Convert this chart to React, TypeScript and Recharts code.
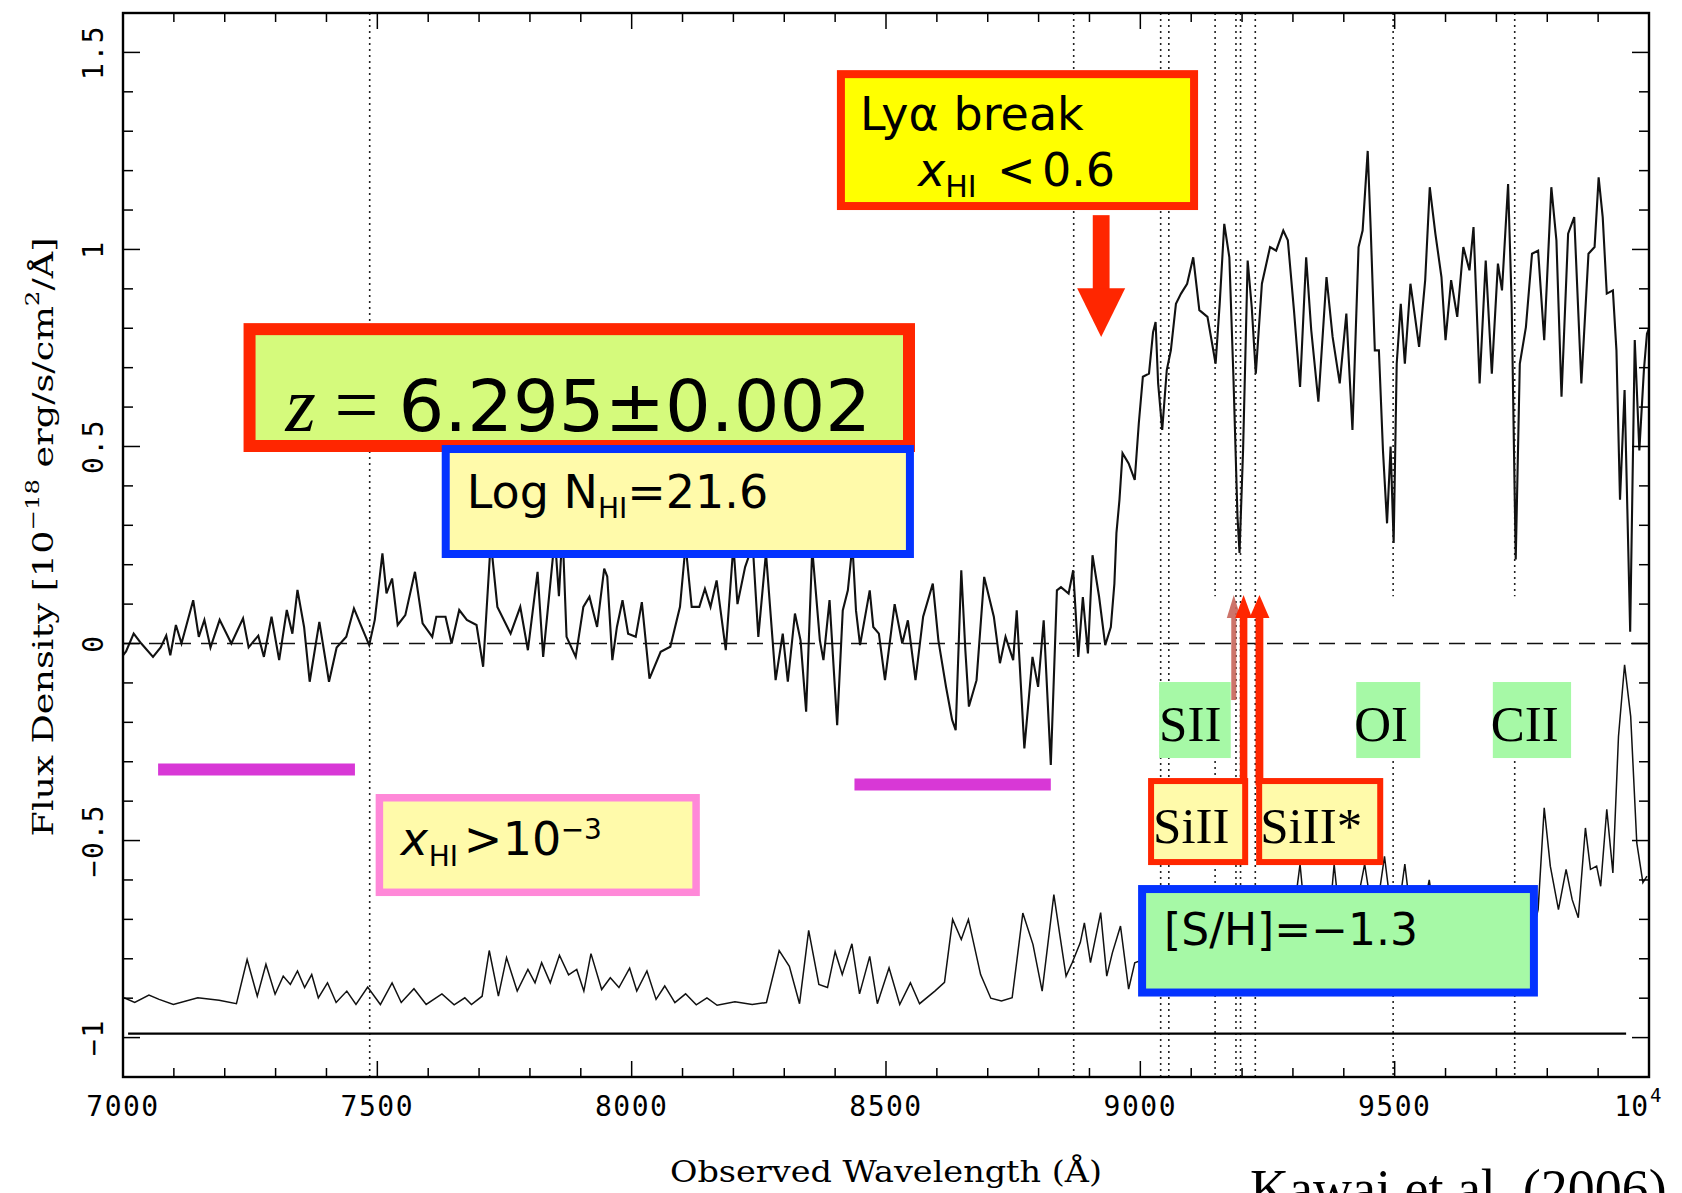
import React from "react";
import { LineChart, Line, XAxis, YAxis, ReferenceLine, ReferenceArea } from "recharts";

type Pt = [number, number];

// Object spectrum (wavelength in Å, flux density in 1e-18 erg/s/cm2/Å)
const OBJECT_BLUE: Pt[] = [
  [7000, -0.03], [7006, -0.02], [7021, 0.025], [7036, 0.0], [7059, -0.034], [7074, -0.01], [7085, 0.02],
  [7093, -0.03], [7104, 0.047], [7115, 0.0], [7138, 0.11], [7149, 0.017], [7160, 0.06], [7172, -0.01],
  [7190, 0.06], [7213, 0.0], [7236, 0.064], [7247, -0.01], [7266, 0.02], [7277, -0.034], [7292, 0.068],
  [7307, -0.042], [7322, 0.085], [7333, 0.025], [7343, 0.136], [7356, 0.042], [7367, -0.097], [7386, 0.055],
  [7405, -0.097], [7420, -0.01], [7439, 0.017], [7454, 0.089], [7469, 0.042], [7484, -0.004], [7495, 0.06],
  [7510, 0.229], [7518, 0.127], [7529, 0.165], [7540, 0.047], [7555, 0.072], [7574, 0.182], [7589, 0.051],
  [7608, 0.017], [7616, 0.068], [7634, 0.068], [7646, 0.0], [7661, 0.085], [7676, 0.06], [7695, 0.047],
  [7708, -0.059], [7723, 0.26], [7736, 0.093], [7762, 0.025], [7781, 0.093], [7796, -0.017], [7815, 0.182],
  [7826, -0.034], [7849, 0.27], [7857, 0.12], [7864, 0.29], [7872, 0.017], [7890, -0.034], [7905, 0.093],
  [7917, 0.119], [7932, 0.042], [7946, 0.19], [7952, 0.17], [7962, -0.042], [7971, 0.042], [7982, 0.11],
  [7993, 0.025],
];
const OBJECT_MID: Pt[] = [
  [8008, 0.017], [8020, 0.105], [8035, -0.089], [8057, -0.021], [8076, -0.008], [8095, 0.093], [8106, 0.25],
  [8118, 0.093], [8133, 0.093], [8144, 0.139], [8155, 0.093], [8167, 0.16], [8185, -0.017], [8200, 0.25],
  [8208, 0.1], [8223, 0.194], [8238, 0.25], [8249, 0.017], [8264, 0.23], [8283, -0.093], [8297, 0.025],
  [8307, -0.097], [8321, 0.076], [8332, 0.008], [8343, -0.173], [8355, 0.24], [8370, 0.008], [8377, -0.042],
  [8389, 0.11], [8404, -0.207], [8415, 0.084], [8425, 0.135], [8434, 0.25], [8441, 0.084], [8449, -0.004],
  [8468, 0.135], [8475, 0.042], [8486, 0.025], [8498, -0.093], [8517, 0.1], [8532, 0.0], [8543, 0.059],
  [8558, -0.093], [8573, 0.068], [8592, 0.152], [8603, 0.008], [8618, -0.11], [8630, -0.194], [8637, -0.22],
  [8648, 0.186], [8656, -0.017], [8663, -0.16], [8678, -0.093], [8693, 0.169], [8712, 0.068], [8724, -0.05],
  [8735, 0.017], [8750, -0.042], [8757, 0.084], [8772, -0.266], [8788, -0.034], [8799, -0.11], [8810, 0.059],
  [8824, -0.308], [8836, 0.135], [8844, 0.143], [8859, 0.127], [8868, 0.186], [8878, -0.034], [8887, 0.118],
  [8897, -0.025], [8906, 0.224], [8919, 0.118], [8931, -0.004], [8942, 0.042], [8949, 0.152], [8953, 0.28],
  [8959, 0.365], [8965, 0.483], [8977, 0.457], [8989, 0.415], [8997, 0.559],
];
const OBJECT_RED: Pt[] = [
  [9005, 0.677], [9017, 0.685], [9025, 0.79], [9030, 0.816], [9035, 0.66], [9043, 0.542], [9052, 0.694],
  [9060, 0.744], [9070, 0.862], [9080, 0.888], [9092, 0.913], [9104, 0.98], [9116, 0.846], [9132, 0.829],
  [9148, 0.71], [9156, 0.862], [9165, 1.065], [9175, 0.98], [9183, 0.677], [9191, 0.322], [9195, 0.23],
  [9202, 0.491], [9211, 0.972], [9219, 0.854], [9227, 0.685], [9239, 0.913], [9255, 1.006], [9267, 0.997],
  [9281, 1.048], [9290, 1.023], [9302, 0.846], [9314, 0.651], [9326, 0.98], [9336, 0.795], [9350, 0.614],
  [9366, 0.93], [9378, 0.778], [9392, 0.66], [9405, 0.837], [9417, 0.542], [9429, 1.006], [9437, 1.048],
  [9447, 1.25], [9453, 1.048], [9461, 0.744], [9469, 0.744], [9477, 0.49], [9485, 0.305], [9492, 0.5],
  [9498, 0.255], [9504, 0.71], [9512, 0.862], [9520, 0.71], [9531, 0.913], [9540, 0.829], [9548, 0.753],
  [9560, 0.922], [9569, 1.158], [9580, 1.04], [9592, 0.93], [9600, 0.77], [9611, 0.922], [9623, 0.829],
  [9635, 1.006], [9647, 0.947], [9655, 1.057], [9667, 0.66], [9679, 0.972], [9691, 0.685], [9703, 0.964],
  [9711, 0.896], [9723, 1.166], [9730, 0.862], [9738, 0.213], [9746, 0.71], [9758, 0.803], [9770, 0.989],
  [9782, 0.997], [9794, 0.77], [9808, 1.158], [9818, 1.023], [9828, 0.626], [9841, 1.04], [9853, 1.082],
  [9867, 0.66], [9881, 0.989], [9893, 1.006], [9901, 1.183], [9909, 1.082], [9917, 0.888], [9929, 0.896],
  [9936, 0.744], [9943, 0.365], [9952, 0.643], [9963, 0.03], [9972, 0.77], [9981, 0.49], [9990, 0.694],
  [9996, 0.786], [10000, 0.8],
];

// Lower (noise / sky) spectrum, offset below zero
const NOISE_BLUE: Pt[] = [
  [7002, -0.899], [7023, -0.911], [7051, -0.892], [7071, -0.903], [7099, -0.916], [7147, -0.899], [7189, -0.905],
  [7223, -0.914], [7244, -0.802], [7264, -0.895], [7281, -0.814], [7299, -0.89], [7315, -0.844], [7329, -0.865],
  [7343, -0.831], [7357, -0.873], [7371, -0.84], [7384, -0.899], [7402, -0.861], [7419, -0.911], [7440, -0.882],
  [7458, -0.916], [7481, -0.872], [7506, -0.916], [7529, -0.861], [7547, -0.911], [7572, -0.876], [7596, -0.916],
  [7627, -0.889], [7651, -0.917], [7672, -0.899], [7685, -0.916], [7706, -0.895], [7720, -0.779], [7738, -0.895],
  [7754, -0.797], [7775, -0.882], [7796, -0.827], [7810, -0.861], [7823, -0.81], [7840, -0.861], [7858, -0.791],
  [7876, -0.841], [7892, -0.827], [7906, -0.882], [7920, -0.787], [7941, -0.878], [7958, -0.848], [7975, -0.873],
  [7996, -0.824], [8010, -0.882], [8030, -0.831], [8048, -0.903], [8065, -0.869], [8085, -0.911], [8106, -0.889],
  [8127, -0.917], [8148, -0.899], [8168, -0.918], [8203, -0.909], [8237, -0.916], [8265, -0.911], [8290, -0.779],
  [8310, -0.819], [8330, -0.914], [8348, -0.728], [8368, -0.865], [8385, -0.873], [8400, -0.782], [8414, -0.84],
  [8433, -0.762], [8448, -0.889], [8468, -0.794], [8483, -0.914], [8506, -0.823], [8527, -0.916], [8548, -0.861],
  [8566, -0.914], [8596, -0.882],
];
const NOISE_RED: Pt[] = [
  [8615, -0.86], [8631, -0.7], [8648, -0.751], [8662, -0.7], [8686, -0.84], [8706, -0.9], [8727, -0.907],
  [8748, -0.899], [8769, -0.684], [8789, -0.764], [8807, -0.882], [8830, -0.637], [8842, -0.742], [8854, -0.844],
  [8866, -0.81], [8882, -0.759], [8890, -0.709], [8902, -0.81], [8910, -0.759], [8922, -0.683], [8934, -0.844],
  [8945, -0.785], [8961, -0.717], [8977, -0.877], [8989, -0.81], [9010, -0.8], [9030, -0.72], [9050, -0.85],
  [9070, -0.7], [9090, -0.82], [9110, -0.75], [9130, -0.86], [9150, -0.72], [9170, -0.8], [9190, -0.68],
  [9210, -0.82], [9230, -0.74], [9250, -0.85], [9270, -0.7], [9290, -0.8], [9314, -0.56], [9330, -0.78],
  [9350, -0.68], [9365, -0.8], [9381, -0.56], [9400, -0.8], [9420, -0.7], [9441, -0.56], [9460, -0.72],
  [9480, -0.54], [9500, -0.75], [9520, -0.56], [9540, -0.78], [9568, -0.6], [9590, -0.8], [9610, -0.7],
  [9630, -0.82], [9650, -0.68], [9670, -0.8], [9690, -0.72], [9710, -0.84], [9730, -0.7], [9750, -0.82],
  [9770, -0.74], [9782, -0.675], [9794, -0.417], [9806, -0.565], [9822, -0.675], [9837, -0.573], [9849, -0.65],
  [9861, -0.696], [9875, -0.468], [9885, -0.573], [9897, -0.565], [9905, -0.616], [9917, -0.421], [9929, -0.582],
  [9940, -0.236], [9952, -0.054], [9964, -0.185], [9976, -0.506], [9988, -0.607], [9996, -0.59],
];

// Axis ticks and labels
const X_TICKS = [
  7000, 7100, 7200, 7300, 7400, 7500, 7600, 7700, 7800, 7900, 8000, 8100, 8200, 8300, 8400, 8500,
  8600, 8700, 8800, 8900, 9000, 9100, 9200, 9300, 9400, 9500, 9600, 9700, 9800, 9900, 10000,
];
const X_LABELED = [7000, 7500, 8000, 8500, 9000, 9500, 10000];
const X_LABELS = ["7000", "7500", "8000", "8500", "9000", "9500", "10^4"];
const Y_TICKS = [
  -1.1, -1, -0.9, -0.8, -0.7, -0.6, -0.5, -0.4, -0.3, -0.2, -0.1, 0, 0.1, 0.2, 0.3, 0.4, 0.5, 0.6, 0.7,
  0.8, 0.9, 1, 1.1, 1.2, 1.3, 1.4, 1.5, 1.6,
];
const Y_LABELED = [-1, -0.5, 0, 0.5, 1, 1.5];
const Y_LABELS = ["\u22121", "\u22120.5", "0", "0.5", "1", "1.5"];

// Marked absorption-line wavelengths (dotted)
const LINE_MARKS = [7485, 8869, 9040, 9056, 9188, 9197, 9226];
const LINE_MARKS_SPLIT = [9147, 9497, 9736];

// Layout
const W = 1674;
const H = 1185;
const MARGIN = { top: 5, right: 33, bottom: 0, left: 0 };
const YAXIS_W = 115;
const XAXIS_H = 116;
const PLOT_TOP = MARGIN.top;
const PLOT_RIGHT = W - MARGIN.right;

const RED = "#ff2600";
const BLUE = "#0433ff";
const LIME = "#d5fa7c";
const PALE = "#fffaaa";
const GREEN = "#a6f9a6";
const PINK = "#ff88d8";
const PURPLE = "#d838d6";
const YELLOW = "#ffff00";
const SANS = "'DejaVu Sans', 'Noto Sans', sans-serif";
const SERIF = "'Liberation Serif', 'Times New Roman', serif";
const MONO = "'DejaVu Sans Mono', monospace";

const XTick = (props: any) => {
  const { x, y, payload } = props;
  const v = payload.value;
  const i = X_LABELED.indexOf(v);
  const major = i >= 0;
  const len = major ? 16 : 9;
  const edge = v <= 7000 || v >= 10000;
  let label: React.ReactNode = null;
  if (major) {
    const t = X_LABELS[i];
    if (t.includes("^")) {
      const [base, sup] = t.split("^");
      label = (
        <g>
          <text x={x - 1} y={y + 39} textAnchor="end" fontFamily={MONO} fontSize={28} fill="#000">{base}</text>
          <text x={x + 1} y={y + 25} textAnchor="start" fontFamily={MONO} fontSize={19} fill="#000">{sup}</text>
        </g>
      );
    } else {
      label = (
        <text x={x} y={y + 39} textAnchor="middle" fontFamily={MONO} fontSize={28} letterSpacing={1.5} fill="#000">{t}</text>
      );
    }
  }
  return (
    <g>
      {!edge && <line x1={x} x2={x} y1={y} y2={y - len} stroke="#000" strokeWidth={1.5} />}
      {!edge && <line x1={x} x2={x} y1={PLOT_TOP} y2={PLOT_TOP + len} stroke="#000" strokeWidth={1.5} />}
      {label}
    </g>
  );
};

const YTick = (props: any) => {
  const { x, y, payload } = props;
  const v = payload.value;
  const i = Y_LABELED.findIndex((l) => Math.abs(l - v) < 1e-9);
  const major = i >= 0;
  const len = major ? 17 : 10;
  const edge = v <= -1.1 + 1e-9 || v >= 1.6 - 1e-9;
  const cx = x - 29;
  return (
    <g>
      {!edge && <line x1={x} x2={x + len} y1={y} y2={y} stroke="#000" strokeWidth={1.5} />}
      {!edge && <line x1={PLOT_RIGHT} x2={PLOT_RIGHT - len} y1={y} y2={y} stroke="#000" strokeWidth={1.5} />}
      {major && (
        <text
          x={cx}
          y={y}
          transform={`rotate(-90 ${cx} ${y})`}
          textAnchor="middle"
          dominantBaseline="central"
          fontFamily={MONO}
          fontSize={28}
          letterSpacing={1.5}
          fill="#000"
        >
          {Y_LABELS[i]}
        </text>
      )}
    </g>
  );
};

const boxShape = (border: number, borderColor: string | null, fill: string, content: (x: number, y: number) => React.ReactNode) =>
  (p: any) => {
    const { x, y, width, height } = p;
    return (
      <g>
        {borderColor && <rect x={x} y={y} width={width} height={height} fill={borderColor} />}
        <rect x={x + border} y={y + border} width={width - 2 * border} height={height - 2 * border} fill={fill} />
        {content(x, y)}
      </g>
    );
  };

const downArrow = (color: string, shaftFrac: number, headFrac: number) => (p: any) => {
  const { x, y, width, height } = p;
  const cx = x + width / 2;
  const hs = (width * shaftFrac) / 2;
  const headLen = height * headFrac;
  const tip = y + height;
  return (
    <g>
      <rect x={cx - hs} y={y} width={2 * hs} height={height - headLen + 1} fill={color} />
      <polygon points={`${x},${tip - headLen} ${x + width},${tip - headLen} ${cx},${tip}`} fill={color} />
    </g>
  );
};

const upArrow = (color: string, shaftFrac: number, headPx: number, opacity = 1) => (p: any) => {
  const { x, y, width, height } = p;
  const cx = x + width / 2;
  const hs = (width * shaftFrac) / 2;
  return (
    <g opacity={opacity}>
      <rect x={cx - hs} y={y + headPx - 1} width={2 * hs} height={height - headPx + 1} fill={color} />
      <polygon points={`${x},${y + headPx} ${x + width},${y + headPx} ${cx},${y}`} fill={color} />
    </g>
  );
};

const Z = 1500;

export default function App() {
  const objectData = [...OBJECT_BLUE, ...OBJECT_MID, ...OBJECT_RED].map(([w, f]) => ({ w, f }));
  const noiseData = [...NOISE_BLUE, ...NOISE_RED].map(([w, f]) => ({ w, f }));
  const dotted = { stroke: "#222", strokeWidth: 1.6, strokeDasharray: "2 4" };

  return (
    <div style={{ position: "relative", width: W, height: H }}>
      <style>{"html,body{overflow:hidden;}"}</style>
      <LineChart width={W} height={H} margin={MARGIN}>
        <XAxis
          type="number"
          dataKey="w"
          domain={[7000, 10000]}
          allowDataOverflow
          ticks={X_TICKS}
          interval={0}
          tickSize={0}
          tickMargin={0}
          tickLine={false}
          axisLine={false}
          tick={XTick}
          height={XAXIS_H}
        />
        <YAxis
          type="number"
          domain={[-1.1, 1.6]}
          allowDataOverflow
          ticks={Y_TICKS}
          interval={0}
          tickSize={0}
          tickMargin={0}
          tickLine={false}
          axisLine={false}
          tick={YTick}
          width={YAXIS_W}
        />

        {LINE_MARKS.map((l) => (
          <ReferenceLine key={`m${l}`} x={l} {...dotted} ifOverflow="visible" />
        ))}
        {LINE_MARKS_SPLIT.map((l) => (
          <ReferenceLine key={`a${l}`} segment={[{ x: l, y: 1.6 }, { x: l, y: 0.12 }]} {...dotted} ifOverflow="visible" />
        ))}
        {LINE_MARKS_SPLIT.map((l) => (
          <ReferenceLine key={`b${l}`} segment={[{ x: l, y: -0.1 }, { x: l, y: -1.1 }]} {...dotted} ifOverflow="visible" />
        ))}
        <ReferenceLine y={0} stroke="#111" strokeWidth={1.6} strokeDasharray="16 10" ifOverflow="visible" />
        <ReferenceLine segment={[{ x: 7010, y: -0.99 }, { x: 9955, y: -0.99 }]} stroke="#000" strokeWidth={2.2} ifOverflow="visible" />

        <Line data={noiseData} dataKey="f" type="linear" dot={false} activeDot={false} stroke="#111" strokeWidth={1.5} isAnimationActive={false} />
        <Line data={objectData} dataKey="f" type="linear" dot={false} activeDot={false} stroke="#111" strokeWidth={2.1} isAnimationActive={false} />

        {/* purple bars */}
        <ReferenceLine segment={[{ x: 7069, y: -0.32 }, { x: 7456, y: -0.32 }]} stroke={PURPLE} strokeWidth={12} ifOverflow="visible" zIndex={Z} />
        <ReferenceLine segment={[{ x: 8438, y: -0.358 }, { x: 8824, y: -0.358 }]} stroke={PURPLE} strokeWidth={12} ifOverflow="visible" zIndex={Z} />

        {/* Lya break box */}
        <ReferenceArea x1={8403.5} x2={9113.5} y1={1.1} y2={1.455} ifOverflow="visible" zIndex={Z}
          shape={boxShape(8, RED, YELLOW, (x, y) => (
            <g fontFamily={SANS} fill="#000">
              <text x={x + 23} y={y + 60} fontSize={46}>Ly{"\u03b1"} break</text>
              <text x={x + 81} y={y + 116} fontSize={46}>
                <tspan fontStyle="italic">x</tspan>
                <tspan fontSize={30} dy={11}>HI</tspan>
              </text>
              <text x={x + 160} y={y + 116} fontSize={46}>{"<"}</text>
              <text x={x + 205} y={y + 116} fontSize={46}>0.6</text>
            </g>
          ))} />
        <ReferenceArea x1={8875.8} x2={8970.2} y1={0.778} y2={1.087} ifOverflow="visible" zIndex={Z}
          shape={downArrow(RED, 0.35, 0.4)} />

        {/* redshift box */}
        <ReferenceArea x1={7237} x2={8557} y1={0.486} y2={0.813} ifOverflow="visible" zIndex={Z}
          shape={boxShape(12, RED, LIME, (x, y) => (
            <g fill="#000">
              <text x={x + 42} y={y + 108} fontFamily={SERIF} fontStyle="italic" fontSize={78}>z</text>
              <text x={x + 91} y={y + 108} fontFamily={SERIF} fontSize={78}>=</text>
              <text x={x + 155} y={y + 108} fontFamily={SANS} fontSize={72}>6.295{"\u00b1"}0.002</text>
            </g>
          ))} />
        {/* column density box */}
        <ReferenceArea x1={7626.6} x2={8554.9} y1={0.217} y2={0.5037} ifOverflow="visible" zIndex={Z}
          shape={boxShape(8, BLUE, PALE, (x, y) => (
            <text x={x + 25} y={y + 63} fontFamily={SANS} fontSize={46} fill="#000">
              Log N<tspan fontSize={28} dy={10}>HI</tspan><tspan dy={-10}>=21.6</tspan>
            </text>
          ))} />
        {/* neutral fraction lower limit box */}
        <ReferenceArea x1={7496.7} x2={8134} y1={-0.6408} y2={-0.3819} ifOverflow="visible" zIndex={Z}
          shape={boxShape(7.5, PINK, PALE, (x, y) => (
            <g fontFamily={SANS} fill="#000">
              <text x={x + 25} y={y + 61} fontSize={46} fontStyle="italic">x</text>
              <text x={x + 53} y={y + 72} fontSize={28}>HI</text>
              <text x={x + 88} y={y + 61} fontSize={46}>{">"}</text>
              <text x={x + 127} y={y + 61} fontSize={46}>10</text>
              <text x={x + 185} y={y + 45} fontSize={28}>{"\u22123"}</text>
            </g>
          ))} />

        {/* ion labels */}
        <ReferenceArea x1={9036.9} x2={9177.7} y1={-0.2906} y2={-0.0977} ifOverflow="visible" zIndex={Z}
          shape={boxShape(0, null, GREEN, (x, y) => (
            <text x={x} y={y + 59} fontFamily={SERIF} fontSize={51} fill="#000">SII</text>
          ))} />
        <ReferenceArea x1={9424.4} x2={9550.2} y1={-0.2906} y2={-0.0977} ifOverflow="visible" zIndex={Z}
          shape={boxShape(0, null, GREEN, (x, y) => (
            <text x={x - 2} y={y + 59} fontFamily={SERIF} fontSize={51} fill="#000">OI</text>
          ))} />
        <ReferenceArea x1={9693} x2={9846.8} y1={-0.2906} y2={-0.0977} ifOverflow="visible" zIndex={Z}
          shape={boxShape(0, null, GREEN, (x, y) => (
            <text x={x - 2} y={y + 59} fontFamily={SERIF} fontSize={51} fill="#000">CII</text>
          ))} />

        {/* SiII arrows */}
        <ReferenceArea x1={9170} x2={9197.5} y1={-0.1434} y2={0.1231} ifOverflow="visible" zIndex={Z}
          shape={upArrow("#c8665a", 0.36, 23, 0.9)} />
        <ReferenceArea x1={9186.5} x2={9219.5} y1={-0.36} y2={0.1231} ifOverflow="visible" zIndex={Z}
          shape={upArrow(RED, 0.45, 23)} />
        <ReferenceArea x1={9214.5} x2={9253.8} y1={-0.36} y2={0.1231} ifOverflow="visible" zIndex={Z}
          shape={upArrow(RED, 0.39, 23)} />

        <ReferenceArea x1={9015.2} x2={9212} y1={-0.5622} y2={-0.3414} ifOverflow="visible" zIndex={Z}
          shape={boxShape(6, RED, PALE, (x, y) => (
            <text x={x + 5} y={y + 65} fontFamily={SERIF} fontSize={51} fill="#000">SiII</text>
          ))} />
        <ReferenceArea x1={9227.7} x2={9477.5} y1={-0.5622} y2={-0.3414} ifOverflow="visible" zIndex={Z}
          shape={boxShape(6, RED, PALE, (x, y) => (
            <text x={x + 4} y={y + 65} fontFamily={SERIF} fontSize={51} fill="#000">SiII*</text>
          ))} />

        {/* metallicity box */}
        <ReferenceArea x1={8995.6} x2={9781.6} y1={-0.8958} y2={-0.6129} ifOverflow="visible" zIndex={Z}
          shape={boxShape(8, BLUE, GREEN, (x, y) => (
            <text x={x + 26} y={y + 60} fontFamily={SANS} fontSize={44} fill="#000">[S/H]={"\u2212"}1.3</text>
          ))} />

        {/* frame */}
        <ReferenceArea x1={7000} x2={10000} y1={-1.1} y2={1.6} ifOverflow="visible" zIndex={Z + 100}
          shape={(p: any) => (
            <rect x={p.x} y={p.y} width={p.width} height={p.height} fill="none" stroke="#000" strokeWidth={2.4} />
          )} />
      </LineChart>

      <svg
        width={W}
        height={H}
        style={{ position: "absolute", left: 0, top: 0, overflow: "visible", pointerEvents: "none" }}
      >
        <text
          x={35}
          y={529}
          transform="rotate(-90 35 529)"
          textAnchor="middle"
          dominantBaseline="central"
          fontFamily="'DejaVu Serif', serif"
          fontSize={27}
          textLength={599}
          lengthAdjust="spacingAndGlyphs"
          fill="#000"
        >
          Flux Density [10<tspan fontSize={18} dy={-11}>{"\u221218"}</tspan>
          <tspan dy={11}> erg/s/cm</tspan>
          <tspan fontSize={18} dy={-11}>2</tspan>
          <tspan dy={11}>/{"\u00c5"}]</tspan>
        </text>
        <text
          x={878}
          y={1174}
          textAnchor="middle"
          fontFamily="'DejaVu Serif', serif"
          fontSize={30}
          textLength={432}
          lengthAdjust="spacingAndGlyphs"
          fill="#000"
        >
          Observed Wavelength ({"\u00c5"})
        </text>
        <text x={1242} y={1199} fontFamily={SERIF} fontSize={54} fill="#000">
          Kawai et al. (2006)
        </text>
      </svg>
    </div>
  );
}
